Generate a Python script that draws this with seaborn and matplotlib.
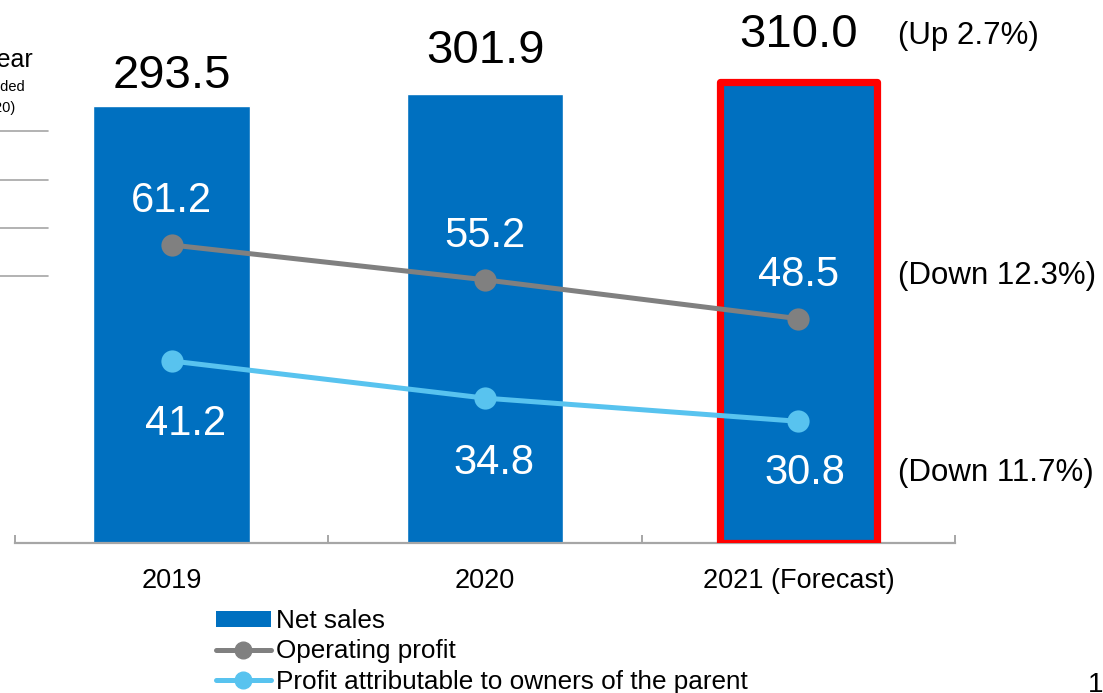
import matplotlib
matplotlib.use("Agg")
import matplotlib.pyplot as plt
from matplotlib.patches import Patch
from matplotlib.lines import Line2D
import seaborn as sns
import pandas as pd

# Data (billions of yen)
years = ["2019", "2020", "2021 (Forecast)"]
net_sales = [293.5, 301.9, 310.0]
operating_profit = [61.2, 55.2, 48.5]
profit_owners = [41.2, 34.8, 30.8]
change_notes = ["(Up 2.7%)", "(Down 12.3%)", "(Down 11.7%)"]
legend_labels = ["Net sales", "Operating profit",
                 "Profit attributable to owners of the parent"]

BLUE = "#0070C0"
GRAY = "#808080"
LIGHT = "#58C3EF"
RED = "#FF0000"

sns.set_theme(style="white")
plt.rcParams["font.family"] = ["Liberation Sans", "DejaVu Sans"]
plt.rcParams["text.color"] = "black"
plt.rcParams["xtick.color"] = "black"

W, H = 1103, 693
fig = plt.figure(figsize=(W / 100, H / 100), dpi=100)
ax = fig.add_axes([15 / W, 1 - 543 / H, 940 / W, 513 / H])

df = pd.DataFrame({"year": years, "sales": net_sales})
sns.barplot(data=df, x="year", y="sales", color=BLUE, saturation=1,
            width=0.5, ax=ax)
ax.set_xlim(-0.5, 2.5)
ax.set_ylim(0, 513 / 1.488)

# highlight the forecast year
fc = ax.patches[2]
fc.set_edgecolor(RED)
fc.set_linewidth(5.2)
fc.set_joinstyle("round")
fc.set_zorder(3)

sales_dy = [8, 21, 25]
for i, v in enumerate(net_sales):
    ax.annotate(f"{v:.1f}", (i, v), xytext=(0, sales_dy[i]),
                textcoords="offset pixels", ha="center", va="bottom",
                fontsize=34, color="black")

# axis styling
for s in ["top", "right", "left"]:
    ax.spines[s].set_visible(False)
ax.spines["bottom"].set_color("#A6A6A6")
ax.spines["bottom"].set_linewidth(1.6)
ax.spines["bottom"].set_zorder(2)
ax.set_yticks([])
ax.set_xlabel("")
ax.set_ylabel("")
ax.set_xticks([0, 1, 2])
ax.set_xticklabels(years)
ax.tick_params(axis="x", which="major", length=0, pad=18, labelsize=19.5,
               labelcolor="black")
ax.set_xticks([-0.5, 0.5, 1.5, 2.5], minor=True)
ax.tick_params(axis="x", which="minor", direction="in", length=6,
               width=1.4, color="#A6A6A6", bottom=True)

# profit lines on a secondary scale
ax2 = ax.twinx()
ax2.set_ylim(9.82, 98.27)
pos = [0, 1, 2]
sns.lineplot(x=pos, y=operating_profit, ax=ax2, color=GRAY, linewidth=3.6,
             marker="o", markersize=16, markeredgewidth=0, zorder=5)
sns.lineplot(x=pos, y=profit_owners, ax=ax2, color=LIGHT, linewidth=3.6,
             marker="o", markersize=16, markeredgewidth=0, zorder=5)
for s in ax2.spines.values():
    s.set_visible(False)
ax2.set_yticks([])
ax2.set_ylabel("")

op_dy = [44, 44, 44]
for i, v in enumerate(operating_profit):
    ax2.annotate(f"{v:.1f}", (i, v), xytext=(0, op_dy[i]),
                 textcoords="offset pixels", ha="center", va="center",
                 fontsize=30, color="white")
po_dx = [14, 9, 7]
po_dy = [-63, -65, -52]
for i, v in enumerate(profit_owners):
    ax2.annotate(f"{v:.1f}", (i, v), xytext=(po_dx[i], po_dy[i]),
                 textcoords="offset pixels", ha="center", va="center",
                 fontsize=30, color="white")

# year-on-year change notes
ax.annotate(change_notes[0], (2, net_sales[2]), xytext=(100, 46),
            textcoords="offset pixels", ha="left", va="center", fontsize=22.5,
            annotation_clip=False)
ax2.annotate(change_notes[1], (2, operating_profit[2]), xytext=(100, 43),
             textcoords="offset pixels", ha="left", va="center", fontsize=22.5,
             annotation_clip=False)
ax2.annotate(change_notes[2], (2, profit_owners[2]), xytext=(100, -52),
             textcoords="offset pixels", ha="left", va="center", fontsize=22.5,
             annotation_clip=False)

# table header at the left edge
fig.text(33 / W, 1 - 60 / H, "Fiscal year", ha="right", va="center",
         fontsize=18)
fig.text(25 / W, 1 - 87 / H, "(Years ended", ha="right", va="center",
         fontsize=10.5)
fig.text(15 / W, 1 - 108 / H, "Dec. 31, 2020)", ha="right", va="center",
         fontsize=10.5)
for yy in [131, 180, 228, 276]:
    fig.add_artist(Line2D([0, 48 / W], [1 - yy / H, 1 - yy / H],
                          color="#A6A6A6", linewidth=1.2))

# legend
handles = [
    Patch(facecolor=BLUE, edgecolor="none"),
    Line2D([], [], color=GRAY, linewidth=3.6, marker="o", markersize=12),
    Line2D([], [], color=LIGHT, linewidth=3.6, marker="o", markersize=12),
]
fig.legend(handles, legend_labels, loc="upper left",
           bbox_to_anchor=(216 / W, 1 - 609 / H), frameon=False,
           fontsize=18.8, handlelength=2.1, handleheight=0.55,
           handletextpad=0.2, labelspacing=0.24, borderpad=0,
           borderaxespad=0)

# page number
fig.text(1088 / W, 1 - 672 / H, "1", ha="left", va="top", fontsize=20)

fig.savefig("out.png", dpi=100)
